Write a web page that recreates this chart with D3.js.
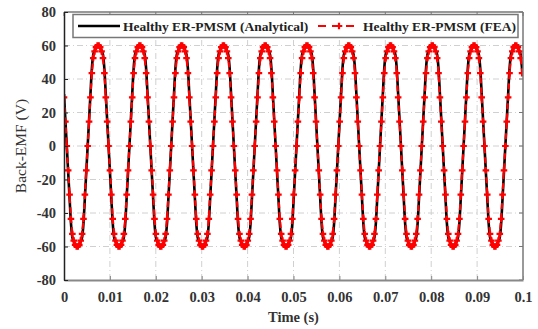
<!DOCTYPE html>
<html>
<head>
<meta charset="utf-8">
<script src="https://cdn.jsdelivr.net/npm/d3@7"></script>
<style>
  body { margin: 0; background: #fff; }
  svg { display: block; font-family: "Liberation Serif", "DejaVu Serif", serif; }
</style>
</head>
<body>
<div id="chart"></div>
<script>
// sampling step of the exported waveforms (s)
var sampleStep = 0.0091 / 30;

// FEA back-EMF samples (V)
var feaValues = [
  29,14.5,0,-14.5,-29,-43.5,-52.5,-56.5,-59,-60,-60,-59,-56.5,-52.5,-43.5,-29,-14.5,0,14.5,29,43.5,52.5,56.5,59,60,60,59,56.5,52.5,43.5,
  29,14.5,0,-14.5,-29,-43.5,-52.5,-56.5,-59,-60,-60,-59,-56.5,-52.5,-43.5,-29,-14.5,0,14.5,29,43.5,52.5,56.5,59,60,60,59,56.5,52.5,43.5,
  29,14.5,0,-14.5,-29,-43.5,-52.5,-56.5,-59,-60,-60,-59,-56.5,-52.5,-43.5,-29,-14.5,0,14.5,29,43.5,52.5,56.5,59,60,60,59,56.5,52.5,43.5,
  29,14.5,0,-14.5,-29,-43.5,-52.5,-56.5,-59,-60,-60,-59,-56.5,-52.5,-43.5,-29,-14.5,0,14.5,29,43.5,52.5,56.5,59,60,60,59,56.5,52.5,43.5,
  29,14.5,0,-14.5,-29,-43.5,-52.5,-56.5,-59,-60,-60,-59,-56.5,-52.5,-43.5,-29,-14.5,0,14.5,29,43.5,52.5,56.5,59,60,60,59,56.5,52.5,43.5,
  29,14.5,0,-14.5,-29,-43.5,-52.5,-56.5,-59,-60,-60,-59,-56.5,-52.5,-43.5,-29,-14.5,0,14.5,29,43.5,52.5,56.5,59,60,60,59,56.5,52.5,43.5,
  29,14.5,0,-14.5,-29,-43.5,-52.5,-56.5,-59,-60,-60,-59,-56.5,-52.5,-43.5,-29,-14.5,0,14.5,29,43.5,52.5,56.5,59,60,60,59,56.5,52.5,43.5,
  29,14.5,0,-14.5,-29,-43.5,-52.5,-56.5,-59,-60,-60,-59,-56.5,-52.5,-43.5,-29,-14.5,0,14.5,29,43.5,52.5,56.5,59,60,60,59,56.5,52.5,43.5,
  29,14.5,0,-14.5,-29,-43.5,-52.5,-56.5,-59,-60,-60,-59,-56.5,-52.5,-43.5,-29,-14.5,0,14.5,29,43.5,52.5,56.5,59,60,60,59,56.5,52.5,43.5,
  29,14.5,0,-14.5,-29,-43.5,-52.5,-56.5,-59,-60,-60,-59,-56.5,-52.5,-43.5,-29,-14.5,0,14.5,29,43.5,52.5,56.5,59,60,60,59,56.5,52.5,43.5,
  29,14.5,0,-14.5,-29,-43.5,-52.5,-56.5,-59,-60,-60,-59,-56.5,-52.5,-43.5,-29,-14.5,0,14.5,29,43.5,52.5,56.5,59,60,60,59,56.5,52.5,43.5
];

// analytical back-EMF samples (V)
var analyticalValues = [
  31,15.5,0,-15.5,-31,-46,-54.5,-57,-58.5,-59.5,-59.5,-58.5,-57,-54.5,-46,-31,-15.5,0,15.5,31,46,54.5,57,58.5,59.5,59.5,58.5,57,54.5,46,
  31,15.5,0,-15.5,-31,-46,-54.5,-57,-58.5,-59.5,-59.5,-58.5,-57,-54.5,-46,-31,-15.5,0,15.5,31,46,54.5,57,58.5,59.5,59.5,58.5,57,54.5,46,
  31,15.5,0,-15.5,-31,-46,-54.5,-57,-58.5,-59.5,-59.5,-58.5,-57,-54.5,-46,-31,-15.5,0,15.5,31,46,54.5,57,58.5,59.5,59.5,58.5,57,54.5,46,
  31,15.5,0,-15.5,-31,-46,-54.5,-57,-58.5,-59.5,-59.5,-58.5,-57,-54.5,-46,-31,-15.5,0,15.5,31,46,54.5,57,58.5,59.5,59.5,58.5,57,54.5,46,
  31,15.5,0,-15.5,-31,-46,-54.5,-57,-58.5,-59.5,-59.5,-58.5,-57,-54.5,-46,-31,-15.5,0,15.5,31,46,54.5,57,58.5,59.5,59.5,58.5,57,54.5,46,
  31,15.5,0,-15.5,-31,-46,-54.5,-57,-58.5,-59.5,-59.5,-58.5,-57,-54.5,-46,-31,-15.5,0,15.5,31,46,54.5,57,58.5,59.5,59.5,58.5,57,54.5,46,
  31,15.5,0,-15.5,-31,-46,-54.5,-57,-58.5,-59.5,-59.5,-58.5,-57,-54.5,-46,-31,-15.5,0,15.5,31,46,54.5,57,58.5,59.5,59.5,58.5,57,54.5,46,
  31,15.5,0,-15.5,-31,-46,-54.5,-57,-58.5,-59.5,-59.5,-58.5,-57,-54.5,-46,-31,-15.5,0,15.5,31,46,54.5,57,58.5,59.5,59.5,58.5,57,54.5,46,
  31,15.5,0,-15.5,-31,-46,-54.5,-57,-58.5,-59.5,-59.5,-58.5,-57,-54.5,-46,-31,-15.5,0,15.5,31,46,54.5,57,58.5,59.5,59.5,58.5,57,54.5,46,
  31,15.5,0,-15.5,-31,-46,-54.5,-57,-58.5,-59.5,-59.5,-58.5,-57,-54.5,-46,-31,-15.5,0,15.5,31,46,54.5,57,58.5,59.5,59.5,58.5,57,54.5,46,
  31,15.5,0,-15.5,-31,-46,-54.5,-57,-58.5,-59.5,-59.5,-58.5,-57,-54.5,-46,-31,-15.5,0,15.5,31,46,54.5,57,58.5,59.5,59.5,58.5,57,54.5,46
];

// tick labels
var xTicks = [0, 0.01, 0.02, 0.03, 0.04, 0.05, 0.06, 0.07, 0.08, 0.09, 0.1];
var yTicks = [-80, -60, -40, -20, 0, 20, 40, 60, 80];

var seriesNames = ["Healthy ER-PMSM (Analytical)", "Healthy ER-PMSM (FEA)"];

var width = 538, height = 329;
var margin = {top: 12, right: 15, bottom: 49, left: 64};

var svg = d3.select("#chart")
  .append("svg")
    .attr("width", width)
    .attr("height", height);

var x = d3.scaleLinear()
  .domain([0, 0.1])
  .range([margin.left, width - margin.right]);

var y = d3.scaleLinear()
  .domain([-80, 80])
  .range([height - margin.bottom, margin.top]);

// grid (dash-dot)
svg.append("g")
  .selectAll("line")
  .data(xTicks.slice(1, -1))
  .enter().append("line")
    .attr("x1", d => x(d)).attr("x2", d => x(d))
    .attr("y1", y(-80)).attr("y2", y(80))
    .attr("stroke", "#d0d0d0")
    .attr("stroke-width", 1)
    .attr("stroke-dasharray", "6,3,1,3");

svg.append("g")
  .selectAll("line")
  .data(yTicks.slice(1, -1))
  .enter().append("line")
    .attr("x1", x(0)).attr("x2", x(0.1))
    .attr("y1", d => y(d)).attr("y2", d => y(d))
    .attr("stroke", "#d0d0d0")
    .attr("stroke-width", 1)
    .attr("stroke-dasharray", "6,3,1,3");

// clip for the curves
svg.append("clipPath").attr("id", "plotclip")
  .append("rect")
    .attr("x", x(0)).attr("y", y(80) - 4)
    .attr("width", x(0.1) - x(0)).attr("height", y(-80) - y(80) + 8);

var analytical = analyticalValues.map((v, i) => ({t: i * sampleStep, v: v}));
var fea = feaValues.map((v, i) => ({t: i * sampleStep, v: v}));

var plot = svg.append("g").attr("clip-path", "url(#plotclip)");

plot.append("path")
  .datum(analytical)
  .attr("fill", "none")
  .attr("stroke", "#000")
  .attr("stroke-width", 2.6)
  .attr("d", d3.line().x(d => x(d.t)).y(d => y(d.v)).curve(d3.curveMonotoneX));

plot.append("path")
  .datum(fea)
  .attr("fill", "none")
  .attr("stroke", "#ff0000")
  .attr("stroke-width", 2.2)
  .attr("stroke-dasharray", "6,4")
  .attr("d", d3.line().x(d => x(d.t)).y(d => y(d.v)));

var marker = d3.symbol().type(d3.symbolCross).size(24);

plot.append("g")
  .selectAll("path")
  .data(fea)
  .enter().append("path")
    .attr("transform", d => `translate(${x(d.t)},${y(d.v)})`)
    .attr("d", marker)
    .attr("fill", "#ff0000");

// frame: top and right
svg.append("line")
  .attr("x1", x(0)).attr("x2", x(0.1))
  .attr("y1", y(80)).attr("y2", y(80))
  .attr("stroke", "#777").attr("stroke-width", 1.5);
svg.append("line")
  .attr("x1", x(0.1)).attr("x2", x(0.1))
  .attr("y1", y(80)).attr("y2", y(-80))
  .attr("stroke", "#777").attr("stroke-width", 1.5);

// inward ticks on top and right
svg.append("g").selectAll("line").data(xTicks).enter().append("line")
  .attr("x1", d => x(d)).attr("x2", d => x(d))
  .attr("y1", y(80)).attr("y2", y(80) + 4)
  .attr("stroke", "#777");
svg.append("g").selectAll("line").data(yTicks).enter().append("line")
  .attr("x1", x(0.1)).attr("x2", x(0.1) - 4)
  .attr("y1", d => y(d)).attr("y2", d => y(d))
  .attr("stroke", "#777");

// Build X axis
var xAxis = svg.append("g")
  .attr("transform", `translate(0,${y(-80)})`)
  .call(d3.axisBottom(x).tickValues(xTicks).tickSizeInner(-4).tickSizeOuter(0).tickPadding(12)
    .tickFormat(d => String(+d.toFixed(2))));
xAxis.select(".domain").attr("stroke", "#888").attr("stroke-width", 2);
xAxis.selectAll(".tick line").attr("stroke", "#888");
xAxis.selectAll("text")
  .attr("font-family", "Liberation Serif, serif")
  .attr("font-weight", "bold")
  .attr("font-size", 14.5)
  .attr("fill", "#333");

// Build Y axis
var yAxis = svg.append("g")
  .attr("transform", `translate(${x(0)},0)`)
  .call(d3.axisLeft(y).tickValues(yTicks).tickSizeInner(-4).tickSizeOuter(0).tickPadding(8)
    .tickFormat(d => String(d)));
yAxis.select(".domain").attr("stroke", "#222").attr("stroke-width", 1.5);
yAxis.selectAll(".tick line").attr("stroke", "#222");
yAxis.selectAll("text")
  .attr("font-family", "Liberation Serif, serif")
  .attr("font-weight", "bold")
  .attr("font-size", 14.5)
  .attr("fill", "#333");

// axis titles
svg.append("text")
  .attr("x", (x(0) + x(0.1)) / 2)
  .attr("y", 322)
  .attr("text-anchor", "middle")
  .attr("font-weight", "bold")
  .attr("font-size", 14.5)
  .attr("fill", "#333")
  .text("Time (s)");

svg.append("text")
  .attr("transform", `translate(26,${y(0)}) rotate(-90)`)
  .attr("text-anchor", "middle")
  .attr("font-size", 15.5)
  .attr("fill", "#333")
  .text("Back-EMF (V)");

// legend
var legend = svg.append("g");
legend.append("rect")
  .attr("x", 73).attr("y", 14.5)
  .attr("width", 445).attr("height", 23)
  .attr("fill", "#fff")
  .attr("stroke", "#777")
  .attr("stroke-width", 1.5);

legend.append("line")
  .attr("x1", 78).attr("x2", 120)
  .attr("y1", 26).attr("y2", 26)
  .attr("stroke", "#000").attr("stroke-width", 2.6);
legend.append("text")
  .attr("x", 123).attr("y", 30.5)
  .attr("font-weight", "bold").attr("font-size", 13.5).attr("fill", "#222")
  .text(seriesNames[0]);

legend.append("line")
  .attr("x1", 318).attr("x2", 360)
  .attr("y1", 26).attr("y2", 26)
  .attr("stroke", "#ff0000").attr("stroke-width", 2.2)
  .attr("stroke-dasharray", "8,6");
legend.append("path")
  .attr("transform", "translate(339,26)")
  .attr("d", marker)
  .attr("fill", "#ff0000");
legend.append("text")
  .attr("x", 363).attr("y", 30.5)
  .attr("font-weight", "bold").attr("font-size", 13.5).attr("fill", "#222")
  .text(seriesNames[1]);
</script>
</body>
</html>
